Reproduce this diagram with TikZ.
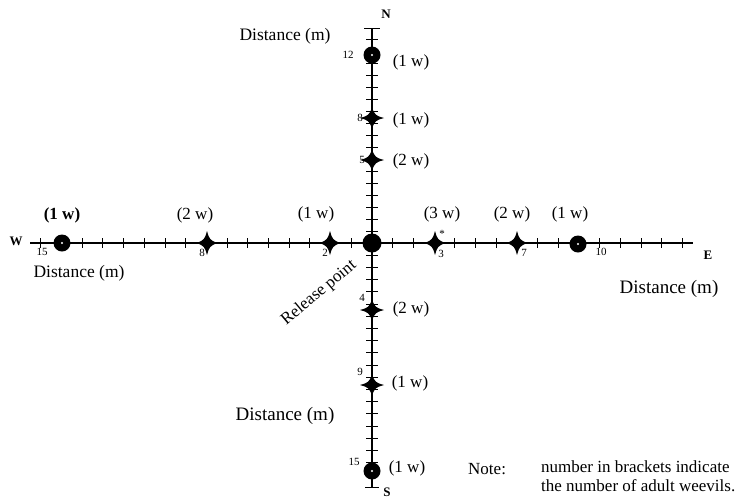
\documentclass[tikz,border=0pt]{standalone}
\usepackage{fontspec}
\setmainfont{Liberation Serif}
\usetikzlibrary{positioning}

\begin{document}
\begin{tikzpicture}[
    x=1pt, y=-1pt,
    axis/.style={line width=1.5pt},
    tickmark/.style={line width=1pt},
    count/.style={inner sep=0pt, font=\fontsize{17}{19}\selectfont},
    bcount/.style={inner sep=0pt, font=\bfseries\fontsize{17}{19}\selectfont},
    dist/.style={inner sep=0pt, font=\fontsize{18}{20}\selectfont},
    num/.style={inner sep=0pt, font=\fontsize{11}{12}\selectfont},
    compass/.style={inner sep=0pt, font=\bfseries\fontsize{13}{14}\selectfont},
    trap/.style={circle, fill, minimum size=17pt, inner sep=0pt},
    weevil/.pic={
        \fill (0,-12) .. controls (2.5,-3.5) .. (10,0) .. controls (2.5,3.5) .. (0,12)
              .. controls (-2.5,3.5) .. (-10,0) .. controls (-2.5,-3.5) .. (0,-12) -- cycle;
        \fill (0,0) ellipse (4 and 3.5);
    }
]
    \useasboundingbox (0,0) rectangle (735,499);

    % axis ends
    \coordinate (wend) at (30,243);
    \coordinate (eend) at (693,243);
    \coordinate (nend) at (372,28);
    \coordinate (send) at (372,487);

    \draw[axis] (wend) -- (eend);
    \draw[axis] (nend) -- (send);

    % ticks
    \foreach \k in {1,...,16}
        \draw[tickmark] ({372-20.7*\k},238) -- ({372-20.7*\k},248);
    \foreach \k in {1,...,15}
        \draw[tickmark] ({372+20.7*\k},238) -- ({372+20.7*\k},248);
    \foreach \k in {1,...,17}
        \draw[tickmark] (366,{243-12*\k}) -- (378,{243-12*\k});
    \foreach \k in {1,...,19}
        \draw[tickmark] (366,{243+12.2*\k}) -- (378,{243+12.2*\k});
    \draw[tickmark] ([xshift=-8pt]nend) -- ([xshift=8pt]nend);
    \draw[tickmark] ([xshift=-7pt]send) -- ([xshift=7pt]send);

    % traps with weevils
    \node[trap, minimum size=19pt] (rp) at (372,243) {};
    \node[trap] (w15) at (62,243) {};
    \node[trap] (e10) at (578,244) {};
    \node[trap] (n12) at (372,55) {};
    \node[trap] (s15) at (372,471) {};
    \foreach \t in {w15,e10,n12,s15}
        \fill[white] (\t) circle (1.2);

    \coordinate (w8) at (207,243);
    \coordinate (w2) at (330,243);
    \coordinate (e3) at (435,243);
    \coordinate (e7) at (517,243);
    \coordinate (n8) at (372,118);
    \coordinate (n5) at (372,160);
    \coordinate (s4) at (372,310);
    \coordinate (s9) at (372,385);
    \foreach \t in {w8,w2,e3,e7}
        \pic at (\t) {weevil};
    \foreach \t in {n8,n5,s4,s9}
        \pic[rotate=90] at (\t) {weevil};

    % counts
    \node[bcount] (cw15) at (62,215) {(1 w)};
    \node[count] (cw8) at (195,215) {(2 w)};
    \node[count] (cw2) at (316,214) {(1 w)};
    \node[count] (ce3) at (442,214) {(3 w)};
    \node[count] (ce7) at (512,214) {(2 w)};
    \node[count] (ce10) at (570,214) {(1 w)};
    \node[count] (cn12) at (411,62) {(1 w)};
    \node[count] (cn8) at (411,120) {(1 w)};
    \node[count] (cn5) at (411,161) {(2 w)};
    \node[count] (cs4) at (411,309) {(2 w)};
    \node[count] (cs9) at (410,383) {(1 w)};
    \node[count] (cs15) at (407,468) {(1 w)};

    % distances
    \node[num] (dw15) at (42,252) {15};
    \node[num] (dw8) at (202,253) {8};
    \node[num] (dw2) at (325,253) {2};
    \node[num] (de3) at (441,254) {3};
    \node[num] (de7) at (524,253) {7};
    \node[num] (de10) at (601,252) {10};
    \node[num] (dn12) at (348,55) {12};
    \node[num] (dn8) at (360,118) {8};
    \node[num] (dn5) at (362,160) {5};
    \node[num] (ds4) at (362,298) {4};
    \node[num] (ds9) at (360,372) {9};
    \node[num] (ds15) at (354,462) {15};
    \node[num] (star) at (442,234) {*};

    % compass points
    \node[compass] (north) at (386,14) {N};
    \node[compass] (south) at (387,492) {S};
    \node[compass] (west) at (16,241) {W};
    \node[compass] (east) at (708,255) {E};

    \node[dist, font=\fontsize{17.5}{20}\selectfont] (distn) at (285,36) {Distance (m)};
    \node[dist, font=\fontsize{17.5}{20}\selectfont] (distw) at (79,273) {Distance (m)};
    \node[dist, font=\fontsize{19}{21}\selectfont] (diste) at (669,289) {Distance (m)};
    \node[dist, font=\fontsize{19}{21}\selectfont] (dists) at (285,416) {Distance (m)};

    \node[count, rotate=40] (rplabel) at (319,293) {Release point};

    % note
    \node[count, anchor=west] (note) at (468,469) {Note:};
    \node[count, anchor=north west, align=left] (notetext) at (541,460)
        {number in brackets indicate\\the number of adult weevils.};
\end{tikzpicture}
\end{document}
